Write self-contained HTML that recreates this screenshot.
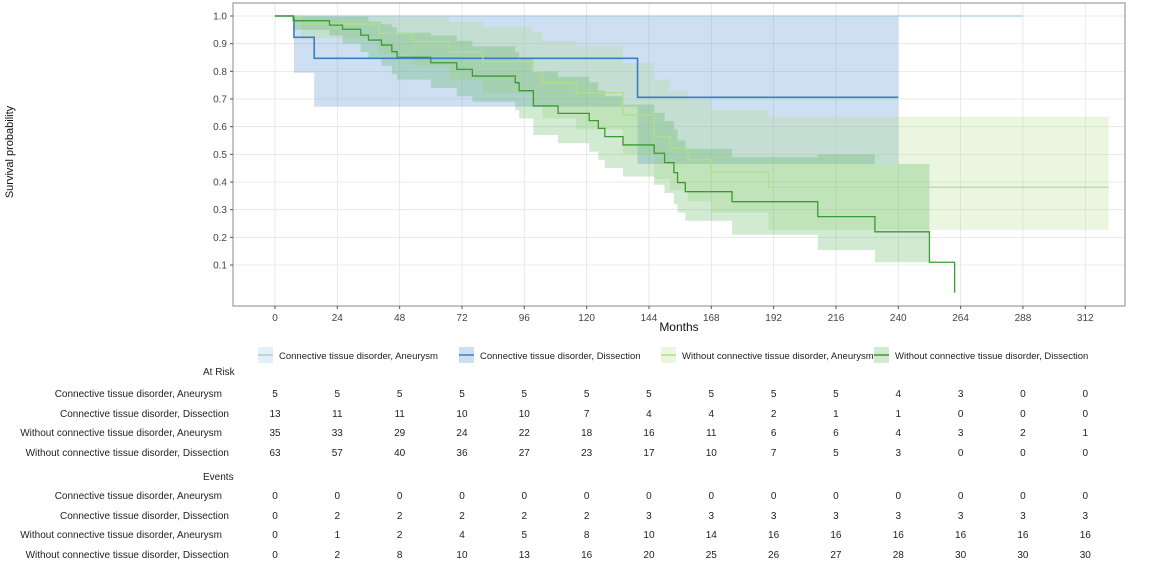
<!DOCTYPE html>
<html><head><meta charset="utf-8"><style>
body{margin:0;background:#fff;font-family:"Liberation Sans",sans-serif;}
svg text{font-family:"Liberation Sans",sans-serif;}
</style></head><body>
<svg id="c" width="1154" height="563" xmlns="http://www.w3.org/2000/svg"></svg>
<script>
const months=[0,24,48,72,96,120,144,168,192,216,240,264,288,312];
const yTicks=[0.1,0.2,0.3,0.4,0.5,0.6,0.7,0.8,0.9,1.0];
const groups=["Connective tissue disorder, Aneurysm","Connective tissue disorder, Dissection","Without connective tissue disorder, Aneurysm","Without connective tissue disorder, Dissection"];
const colors=["#a6cee3","#3b7fbf","#b2df8a","#3a9a33"];
const bandColors=["rgba(166,206,227,0.3)","rgba(90,150,205,0.3)","rgba(178,223,138,0.27)","rgba(70,170,70,0.25)"];
const t0=[0,288], s0=[1,1], lo0=[1,1], hi0=[1,1];
const t1=[0,7.3,15.1,139.6,240], s1=[1,0.923,0.847,0.706,0.706], lo1=[1,0.795,0.672,0.465,0.465], hi1=[1,1,1,1,1];
const t2=[0,10,40,53,67,80,99,103,116,134,146,152,159,168,190,321];
const s2=[1,0.971,0.937,0.907,0.871,0.835,0.799,0.759,0.723,0.642,0.564,0.522,0.48,0.437,0.381,0.381];
const lo2=[1,0.92,0.86,0.82,0.77,0.72,0.68,0.63,0.59,0.50,0.41,0.37,0.33,0.29,0.227,0.227];
const hi2=[1,1,1,1,0.98,0.96,0.94,0.91,0.89,0.83,0.77,0.73,0.70,0.66,0.636,0.636];
const t3=[0,7,21,26,33,36,41,45,47,60,70,76,92.5,94,99.5,109,121,124.5,127,134,146,150,153.6,155,158,176,209,231,252,261.7];
const s3=[1,0.983,0.967,0.952,0.931,0.913,0.895,0.871,0.851,0.831,0.807,0.783,0.759,0.73,0.675,0.648,0.622,0.594,0.564,0.534,0.504,0.47,0.434,0.398,0.365,0.329,0.275,0.22,0.11,0];
const lo3=[1,0.95,0.93,0.90,0.87,0.85,0.82,0.79,0.77,0.74,0.71,0.69,0.66,0.63,0.57,0.54,0.51,0.48,0.45,0.42,0.39,0.36,0.32,0.29,0.26,0.21,0.154,0.11,0.11,0.11];
const hi3=[1,1,1,1,1,0.98,0.97,0.96,0.94,0.93,0.91,0.89,0.87,0.85,0.80,0.78,0.76,0.73,0.71,0.68,0.65,0.62,0.59,0.55,0.52,0.49,0.50,0.465,0.465,0.465];
const atRisk=[[5,5,5,5,5,5,5,5,5,5,4,3,0,0],[13,11,11,10,10,7,4,4,2,1,1,0,0,0],[35,33,29,24,22,18,16,11,6,6,4,3,2,1],[63,57,40,36,27,23,17,10,7,5,3,0,0,0]];
const events=[[0,0,0,0,0,0,0,0,0,0,0,0,0,0],[0,2,2,2,2,2,3,3,3,3,3,3,3,3],[0,1,2,4,5,8,10,14,16,16,16,16,16,16],[0,2,8,10,13,16,20,25,26,27,28,30,30,30]];

const X=m=>275+2.597*m, Y=s=>292.7-276.7*s;
const svg=document.getElementById('c');const NS="http://www.w3.org/2000/svg";
function mk(tag,attrs,parent){const e=document.createElementNS(NS,tag);for(const k in attrs)e.setAttribute(k,attrs[k]);(parent||svg).appendChild(e);return e;}
function txt(x,y,s,size,anchor,fill){const e=mk('text',{x:x,y:y,'font-size':size,'text-anchor':anchor||'middle',fill:fill||'#222'});e.textContent=s;return e;}

const panel=mk('rect',{x:233,y:3,width:892,height:303,fill:'#fff',stroke:'none'});


for(let i=0;i<months.length;i++){const l=mk('line',{x1:X(months[i]),x2:X(months[i]),y1:3,y2:306,stroke:'#e4e4e4','stroke-width':0.8});}
for(let i=0;i<yTicks.length;i++){const l=mk('line',{x1:233,x2:1125,y1:Y(yTicks[i]),y2:Y(yTicks[i]),stroke:'#e4e4e4','stroke-width':0.8});}

const series=[[t0,s0,lo0,hi0],[t1,s1,lo1,hi1],[t2,s2,lo2,hi2],[t3,s3,lo3,hi3]];
const bandEnd=[288,240,321,252];
series.forEach((d,g)=>{const [t,s,lo,hi]=d;let up="",dn=[];
  for(let i=0;i<t.length;i++){const a=t[i];let b=(i+1<t.length?t[i+1]:bandEnd[g]);if(a>=bandEnd[g])break;if(b>bandEnd[g])b=bandEnd[g];
    up+=(up?"L":"M")+X(a)+","+Y(hi[i])+"L"+X(b)+","+Y(hi[i]);
    dn.unshift("L"+X(b)+","+Y(lo[i])+"L"+X(a)+","+Y(lo[i]));}
  const p=mk('path',{d:up+dn.join("")+"Z",fill:bandColors[g],stroke:'none'});
  
  
});
series.forEach((d,g)=>{const [t,s]=d;let p="M"+X(t[0])+","+Y(s[0]);
  for(let i=1;i<t.length;i++){p+="L"+X(t[i])+","+Y(s[i-1])+"L"+X(t[i])+","+Y(s[i]);}
  const e=mk('path',{d:p,fill:'none',stroke:colors[g],'stroke-width':g==1?1.6:1.3});
  
  
});
const border=mk('rect',{x:233,y:3,width:892,height:303,fill:'none',stroke:'#888','stroke-width':1});


months.forEach(m=>{mk('line',{x1:X(m),x2:X(m),y1:306,y2:309,stroke:'#555'});const t=txt(X(m),321,String(m),10,'middle','#444');});
yTicks.forEach(v=>{mk('line',{x1:230,x2:233,y1:Y(v),y2:Y(v),stroke:'#555'});const t=txt(227,Y(v)+3.5,v.toFixed(1),10,'end','#444');});
const xt=txt(679,331,"Months",12,'middle','#111');
const yt=txt(0,0,"Survival probability",11,'middle','#111');yt.setAttribute('transform','translate(13,152) rotate(-90)');

const legX=[258,459,661,874];
groups.forEach((g,i)=>{const gr=mk('g',{});
  mk('rect',{x:legX[i],y:347,width:15,height:16,fill:bandColors[i]},gr);
  mk('line',{x1:legX[i],x2:legX[i]+15,y1:355,y2:355,stroke:colors[i],'stroke-width':1.5},gr);
  const t=mk('text',{x:legX[i]+21,y:359,'font-size':9.5,fill:'#222'},gr);t.textContent=g;});
const ar=txt(203,375,"At Risk",10,'start','#222');
const ev=txt(203,480,"Events",10,'start','#222');
const rowsA=[397,417,436,456], rowsE=[499,519,538,558];
const labelRight=[222,229,222,229];
groups.forEach((g,i)=>{
  const a=txt(labelRight[i],rowsA[i],g,10,'end','#222');
  const b=txt(labelRight[i],rowsE[i],g,10,'end','#222');
  months.forEach((m,j)=>{
    const c=txt(X(m),rowsA[i],String(atRisk[i][j]),10,'middle','#222');
    const d=txt(X(m),rowsE[i],String(events[i][j]),10,'middle','#222');
  });
});
</script>
</body></html>
